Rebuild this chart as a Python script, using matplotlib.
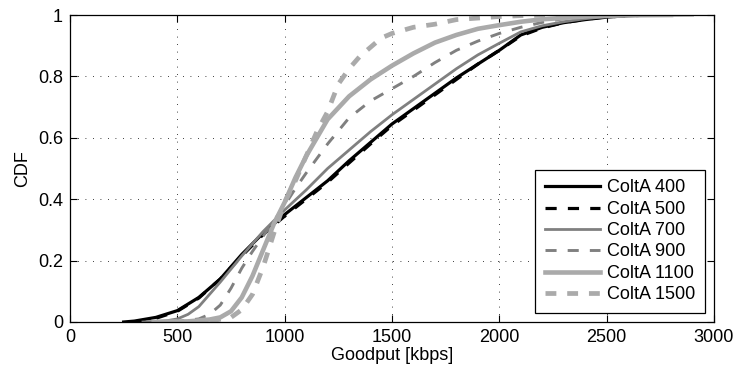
import matplotlib
matplotlib.use("Agg")
import matplotlib.pyplot as plt

plt.rcParams['font.family'] = ['Liberation Sans', 'DejaVu Sans']
plt.rcParams['font.size'] = 13

# CDF curves (x in kbps, y = CDF)
x_400 = [250, 300, 400, 500, 600, 700, 800, 900, 1000, 1100, 1200, 1300, 1400, 1500,
         1600, 1700, 1800, 1900, 2000, 2100, 2200, 2300, 2400, 2500, 2600, 2700]
y_400 = [0, 0.003, 0.015, 0.037, 0.08, 0.14, 0.22, 0.29, 0.35, 0.405, 0.46, 0.525, 0.585, 0.645,
         0.695, 0.745, 0.795, 0.84, 0.885, 0.935, 0.96, 0.975, 0.985, 0.993, 0.998, 1.0]

x_500 = [300, 400, 500, 600, 700, 800, 900, 1000, 1100, 1200, 1300, 1400, 1500,
         1600, 1700, 1800, 1900, 2000, 2100, 2200, 2300, 2400, 2500, 2700]
y_500 = [0, 0.012, 0.035, 0.078, 0.14, 0.215, 0.285, 0.345, 0.40, 0.455, 0.518, 0.58, 0.64,
         0.69, 0.74, 0.79, 0.84, 0.885, 0.932, 0.958, 0.975, 0.986, 0.994, 1.0]

x_700 = [340, 450, 500, 550, 600, 700, 800, 900, 1000, 1100, 1200, 1300, 1400, 1500,
         1600, 1700, 1800, 1900, 2000, 2100, 2200, 2300, 2400, 2500, 2700, 2900]
y_700 = [0, 0.004, 0.01, 0.025, 0.05, 0.13, 0.215, 0.295, 0.365, 0.43, 0.50, 0.56, 0.62, 0.675,
         0.725, 0.775, 0.825, 0.87, 0.908, 0.945, 0.965, 0.978, 0.988, 0.995, 0.999, 1.0]

x_900 = [480, 600, 650, 700, 750, 800, 850, 900, 950, 1000, 1050, 1100, 1200, 1300, 1400,
         1500, 1600, 1700, 1800, 1900, 2000, 2100, 2200, 2300, 2400, 2600]
y_900 = [0, 0.01, 0.025, 0.055, 0.11, 0.175, 0.23, 0.28, 0.33, 0.38, 0.435, 0.485, 0.58, 0.665,
         0.72, 0.76, 0.80, 0.845, 0.885, 0.915, 0.94, 0.96, 0.976, 0.988, 0.995, 1.0]

x_1100 = [390, 550, 650, 700, 750, 800, 850, 900, 950, 1000, 1050, 1100, 1150, 1200, 1300,
          1400, 1500, 1600, 1700, 1800, 1900, 2000, 2100, 2200, 2400, 2600, 2800]
y_1100 = [0, 0.002, 0.008, 0.015, 0.035, 0.08, 0.15, 0.235, 0.32, 0.39, 0.47, 0.54, 0.60, 0.66,
          0.735, 0.79, 0.835, 0.875, 0.91, 0.935, 0.955, 0.967, 0.978, 0.986, 0.995, 0.999, 1.0]

x_1500 = [450, 650, 750, 800, 850, 900, 950, 1000, 1050, 1100, 1150, 1200, 1250, 1300,
          1350, 1400, 1450, 1500, 1600, 1700, 1800, 1900, 2000, 2100, 2300]
y_1500 = [0, 0.003, 0.015, 0.04, 0.09, 0.18, 0.29, 0.39, 0.46, 0.54, 0.62, 0.685, 0.775, 0.825,
          0.865, 0.895, 0.925, 0.94, 0.96, 0.97, 0.985, 0.99, 0.995, 0.998, 1.0]

labels = ['ColtA 400', 'ColtA 500', 'ColtA 700', 'ColtA 900', 'ColtA 1100', 'ColtA 1500']
xticks = [0, 500, 1000, 1500, 2000, 2500, 3000]
yticks = [0, 0.2, 0.4, 0.6, 0.8, 1]
ytick_labels = ['0', '0.2', '0.4', '0.6', '0.8', '1']

series = [
    (x_400, y_400, dict(color='black', lw=2.3, ls='-')),
    (x_500, y_500, dict(color='black', lw=2.3, dashes=(3.5, 3.5))),
    (x_700, y_700, dict(color='#808080', lw=2.0, ls='-')),
    (x_900, y_900, dict(color='#808080', lw=2.1, dashes=(3.8, 3.8))),
    (x_1100, y_1100, dict(color='#aaaaaa', lw=3.3, ls='-')),
    (x_1500, y_1500, dict(color='#aaaaaa', lw=3.4, dashes=(2.3, 2.3))),
]

fig = plt.figure(figsize=(7.34, 3.72), dpi=100)
ax = fig.add_axes([70 / 734, 50 / 372, 644 / 734, 307 / 372])

for (xs, ys, style), lab in zip(series, labels):
    ax.plot(xs, ys, label=lab, **style)

ax.set_xlim(0, 3000)
ax.set_ylim(0, 1)
ax.set_xticks(xticks)
ax.set_yticks(yticks)
ax.set_yticklabels(ytick_labels)
ax.set_xlabel('Goodput [kbps]', labelpad=1)
ax.set_ylabel('CDF', labelpad=5)

ax.grid(True, color='black', lw=0.6, linestyle=(0, (1, 8)))
ax.tick_params(direction='in', top=True, right=True, length=5, width=0.8, pad=5)
for sp in ax.spines.values():
    sp.set_linewidth(0.9)

leg = ax.legend(loc='lower right', bbox_to_anchor=(0.986, 0.029), borderaxespad=0,
                fancybox=False, framealpha=1, edgecolor='black', handlelength=3.1,
                handletextpad=0.35, labelspacing=0.24, borderpad=0.55)
leg.get_frame().set_linewidth(0.9)

fig.savefig('out.png', dpi=100)
